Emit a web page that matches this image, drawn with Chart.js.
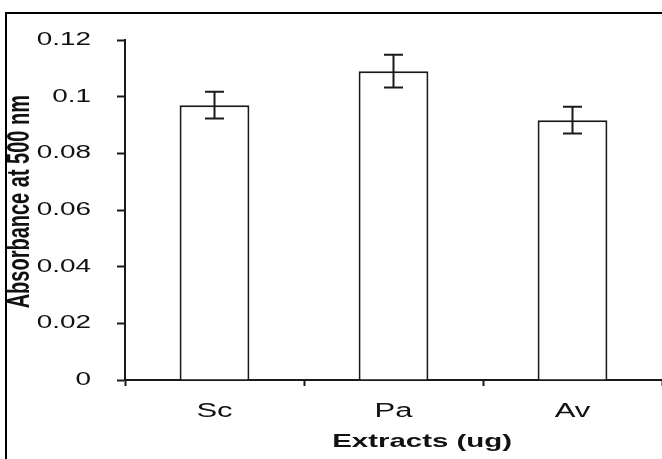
<!DOCTYPE html>
<html>
<head>
<meta charset="utf-8">
<script src="https://cdn.jsdelivr.net/npm/chart.js@4/dist/chart.umd.min.js"></script>
<style>
    html, body { margin: 0; padding: 0; background: #fff; overflow: hidden; }
    #wrap { position: relative; width: 662px; height: 459px; }
    #frame { position: absolute; left: 5px; top: 12px; width: 700px; height: 500px; border: 2px solid #000; pointer-events: none; }
    canvas { position: absolute; left: 0; top: 0; }
</style>
</head>
<body>
<div id="wrap">
    <div id="frame"></div>
    <canvas id="chart" width="662" height="459"></canvas>
</div>
<script>
const categories = ['Sc', 'Pa', 'Av'];
const absorbance = [0.097, 0.109, 0.0917];
const errors = [0.0047, 0.0058, 0.0047];
const yTickLabels = ['0', '0.02', '0.04', '0.06', '0.08', '0.1', '0.12'];

const FONT = "'Liberation Sans', Arial, sans-serif";
const INK = '#1a1a1a';
// the original picture is stretched sideways, so text is drawn wider than normal
const STRETCH = 1.55;

const canvas = document.getElementById('chart');
const ctx = canvas.getContext('2d');
const baseFillText = ctx.fillText.bind(ctx);
ctx.fillText = function (text, x, y) {
    const m = ctx.getTransform();
    ctx.save();
    ctx.translate(x, y);
    if (Math.abs(m.b) > 0.5) ctx.scale(1, STRETCH);
    else ctx.scale(STRETCH, 1);
    baseFillText(text, 0, 0);
    ctx.restore();
};

const errorBars = {
    id: 'errorBars',
    afterDatasetsDraw(chart) {
        const c = chart.ctx;
        const y = chart.scales.y;
        const meta = chart.getDatasetMeta(0);
        c.save();
        c.strokeStyle = INK;
        c.lineWidth = 2;
        meta.data.forEach((bar, i) => {
            const top = y.getPixelForValue(absorbance[i] + errors[i]);
            const bottom = y.getPixelForValue(absorbance[i] - errors[i]);
            const half = 9.5;
            c.beginPath();
            c.moveTo(bar.x, top);
            c.lineTo(bar.x, bottom);
            c.moveTo(bar.x - half, top);
            c.lineTo(bar.x + half, top);
            c.moveTo(bar.x - half, bottom);
            c.lineTo(bar.x + half, bottom);
            c.stroke();
        });
        c.restore();
    },
};

new Chart(canvas, {
    type: 'bar',
    data: {
        labels: categories,
        datasets: [{
            data: absorbance,
            backgroundColor: '#fff',
            borderColor: INK,
            borderWidth: 2,
            barPercentage: 0.39,
            categoryPercentage: 1.0,
        }],
    },
    options: {
        responsive: false,
        animation: false,
        layout: { padding: { top: 40, right: -3, bottom: 0, left: 0 } },
        plugins: { legend: { display: false }, tooltip: { enabled: false } },
        scales: {
            x: {
                afterFit: (scale) => { scale.height = 79; },
                grid: {
                    offset: true,
                    drawOnChartArea: false,
                    drawTicks: true,
                    tickLength: 6,
                    tickWidth: 2,
                    tickColor: INK,
                },
                border: { display: true, color: INK, width: 2 },
                ticks: {
                    color: '#111',
                    font: { family: FONT, size: 20 },
                    padding: 13,
                    maxRotation: 0,
                },
                title: {
                    display: true,
                    text: '       Extracts (ug)',
                    color: '#111',
                    font: { family: FONT, size: 19, weight: 'bold' },
                    padding: { top: 0, bottom: 6 },
                },
            },
            y: {
                min: 0,
                max: 0.12,
                afterFit: (scale) => { scale.width = 125; },
                grid: {
                    drawOnChartArea: false,
                    drawTicks: true,
                    tickLength: 8,
                    tickWidth: 2,
                    tickColor: INK,
                },
                border: { display: true, color: INK, width: 2 },
                ticks: {
                    stepSize: 0.02,
                    color: '#111',
                    font: { family: FONT, size: 18 },
                    padding: 26,
                    callback: (value, index) => yTickLabels[index],
                },
                title: {
                    display: true,
                    text: '   Absorbance at 500 nm',
                    color: '#111',
                    font: { family: FONT, size: 20, weight: 'bold' },
                    padding: { top: 8, bottom: 0 },
                },
            },
        },
    },
    plugins: [errorBars],
});
</script>
</body>
</html>
